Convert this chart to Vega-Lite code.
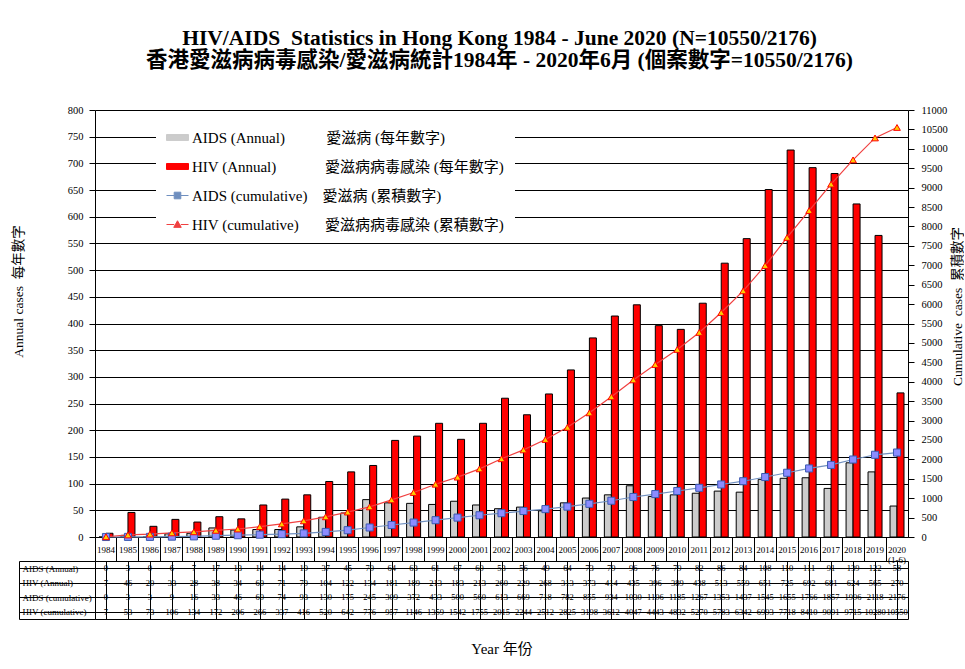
{
  "$schema": "https://vega.github.io/schema/vega-lite/v6.json",
  "background": "white",
  "padding": {"left": 11, "top": 27, "right": 0, "bottom": 5},
  "autosize": {"type": "pad"},
  "title": {
    "text": ["HIV/AIDS\u00a0 Statistics in Hong Kong 1984 - June 2020 (N=10550/2176)", "香港愛滋病病毒感染/愛滋病統計1984年 - 2020年6月 (個案數字=10550/2176)"],
    "anchor": "middle",
    "font": "Liberation Serif, Noto Sans CJK TC",
    "fontSize": 21.5,
    "fontWeight": "bold",
    "lineHeight": 22,
    "color": "black",
    "offset": 34,
    "dx": 12
  },
  "datasets": {
    "stats": [
      {"year": "1984", "series": "AIDS (Annual)", "value": 0},
      {"year": "1985", "series": "AIDS (Annual)", "value": 3},
      {"year": "1986", "series": "AIDS (Annual)", "value": 0},
      {"year": "1987", "series": "AIDS (Annual)", "value": 6},
      {"year": "1988", "series": "AIDS (Annual)", "value": 7},
      {"year": "1989", "series": "AIDS (Annual)", "value": 17},
      {"year": "1990", "series": "AIDS (Annual)", "value": 13},
      {"year": "1991", "series": "AIDS (Annual)", "value": 14},
      {"year": "1992", "series": "AIDS (Annual)", "value": 14},
      {"year": "1993", "series": "AIDS (Annual)", "value": 19},
      {"year": "1994", "series": "AIDS (Annual)", "value": 37},
      {"year": "1995", "series": "AIDS (Annual)", "value": 45},
      {"year": "1996", "series": "AIDS (Annual)", "value": 70},
      {"year": "1997", "series": "AIDS (Annual)", "value": 64},
      {"year": "1998", "series": "AIDS (Annual)", "value": 63},
      {"year": "1999", "series": "AIDS (Annual)", "value": 61},
      {"year": "2000", "series": "AIDS (Annual)", "value": 67},
      {"year": "2001", "series": "AIDS (Annual)", "value": 60},
      {"year": "2002", "series": "AIDS (Annual)", "value": 53},
      {"year": "2003", "series": "AIDS (Annual)", "value": 56},
      {"year": "2004", "series": "AIDS (Annual)", "value": 49},
      {"year": "2005", "series": "AIDS (Annual)", "value": 64},
      {"year": "2006", "series": "AIDS (Annual)", "value": 73},
      {"year": "2007", "series": "AIDS (Annual)", "value": 79},
      {"year": "2008", "series": "AIDS (Annual)", "value": 96},
      {"year": "2009", "series": "AIDS (Annual)", "value": 76},
      {"year": "2010", "series": "AIDS (Annual)", "value": 79},
      {"year": "2011", "series": "AIDS (Annual)", "value": 82},
      {"year": "2012", "series": "AIDS (Annual)", "value": 86},
      {"year": "2013", "series": "AIDS (Annual)", "value": 84},
      {"year": "2014", "series": "AIDS (Annual)", "value": 108},
      {"year": "2015", "series": "AIDS (Annual)", "value": 110},
      {"year": "2016", "series": "AIDS (Annual)", "value": 111},
      {"year": "2017", "series": "AIDS (Annual)", "value": 91},
      {"year": "2018", "series": "AIDS (Annual)", "value": 139},
      {"year": "2019", "series": "AIDS (Annual)", "value": 122},
      {"year": "2020", "series": "AIDS (Annual)", "value": 58},
      {"year": "1984", "series": "HIV (Annual)", "value": 7},
      {"year": "1985", "series": "HIV (Annual)", "value": 46},
      {"year": "1986", "series": "HIV (Annual)", "value": 20},
      {"year": "1987", "series": "HIV (Annual)", "value": 33},
      {"year": "1988", "series": "HIV (Annual)", "value": 28},
      {"year": "1989", "series": "HIV (Annual)", "value": 38},
      {"year": "1990", "series": "HIV (Annual)", "value": 34},
      {"year": "1991", "series": "HIV (Annual)", "value": 60},
      {"year": "1992", "series": "HIV (Annual)", "value": 71},
      {"year": "1993", "series": "HIV (Annual)", "value": 79},
      {"year": "1994", "series": "HIV (Annual)", "value": 104},
      {"year": "1995", "series": "HIV (Annual)", "value": 122},
      {"year": "1996", "series": "HIV (Annual)", "value": 134},
      {"year": "1997", "series": "HIV (Annual)", "value": 181},
      {"year": "1998", "series": "HIV (Annual)", "value": 189},
      {"year": "1999", "series": "HIV (Annual)", "value": 213},
      {"year": "2000", "series": "HIV (Annual)", "value": 183},
      {"year": "2001", "series": "HIV (Annual)", "value": 213},
      {"year": "2002", "series": "HIV (Annual)", "value": 260},
      {"year": "2003", "series": "HIV (Annual)", "value": 229},
      {"year": "2004", "series": "HIV (Annual)", "value": 268},
      {"year": "2005", "series": "HIV (Annual)", "value": 313},
      {"year": "2006", "series": "HIV (Annual)", "value": 373},
      {"year": "2007", "series": "HIV (Annual)", "value": 414},
      {"year": "2008", "series": "HIV (Annual)", "value": 435},
      {"year": "2009", "series": "HIV (Annual)", "value": 396},
      {"year": "2010", "series": "HIV (Annual)", "value": 389},
      {"year": "2011", "series": "HIV (Annual)", "value": 438},
      {"year": "2012", "series": "HIV (Annual)", "value": 513},
      {"year": "2013", "series": "HIV (Annual)", "value": 559},
      {"year": "2014", "series": "HIV (Annual)", "value": 651},
      {"year": "2015", "series": "HIV (Annual)", "value": 725},
      {"year": "2016", "series": "HIV (Annual)", "value": 692},
      {"year": "2017", "series": "HIV (Annual)", "value": 681},
      {"year": "2018", "series": "HIV (Annual)", "value": 624},
      {"year": "2019", "series": "HIV (Annual)", "value": 565},
      {"year": "2020", "series": "HIV (Annual)", "value": 270},
      {"year": "1984", "series": "AIDS (cumulative)", "value": 0},
      {"year": "1985", "series": "AIDS (cumulative)", "value": 3},
      {"year": "1986", "series": "AIDS (cumulative)", "value": 3},
      {"year": "1987", "series": "AIDS (cumulative)", "value": 9},
      {"year": "1988", "series": "AIDS (cumulative)", "value": 16},
      {"year": "1989", "series": "AIDS (cumulative)", "value": 33},
      {"year": "1990", "series": "AIDS (cumulative)", "value": 46},
      {"year": "1991", "series": "AIDS (cumulative)", "value": 60},
      {"year": "1992", "series": "AIDS (cumulative)", "value": 74},
      {"year": "1993", "series": "AIDS (cumulative)", "value": 93},
      {"year": "1994", "series": "AIDS (cumulative)", "value": 130},
      {"year": "1995", "series": "AIDS (cumulative)", "value": 175},
      {"year": "1996", "series": "AIDS (cumulative)", "value": 245},
      {"year": "1997", "series": "AIDS (cumulative)", "value": 309},
      {"year": "1998", "series": "AIDS (cumulative)", "value": 372},
      {"year": "1999", "series": "AIDS (cumulative)", "value": 433},
      {"year": "2000", "series": "AIDS (cumulative)", "value": 500},
      {"year": "2001", "series": "AIDS (cumulative)", "value": 560},
      {"year": "2002", "series": "AIDS (cumulative)", "value": 613},
      {"year": "2003", "series": "AIDS (cumulative)", "value": 669},
      {"year": "2004", "series": "AIDS (cumulative)", "value": 718},
      {"year": "2005", "series": "AIDS (cumulative)", "value": 782},
      {"year": "2006", "series": "AIDS (cumulative)", "value": 855},
      {"year": "2007", "series": "AIDS (cumulative)", "value": 934},
      {"year": "2008", "series": "AIDS (cumulative)", "value": 1030},
      {"year": "2009", "series": "AIDS (cumulative)", "value": 1106},
      {"year": "2010", "series": "AIDS (cumulative)", "value": 1185},
      {"year": "2011", "series": "AIDS (cumulative)", "value": 1267},
      {"year": "2012", "series": "AIDS (cumulative)", "value": 1353},
      {"year": "2013", "series": "AIDS (cumulative)", "value": 1437},
      {"year": "2014", "series": "AIDS (cumulative)", "value": 1545},
      {"year": "2015", "series": "AIDS (cumulative)", "value": 1655},
      {"year": "2016", "series": "AIDS (cumulative)", "value": 1766},
      {"year": "2017", "series": "AIDS (cumulative)", "value": 1857},
      {"year": "2018", "series": "AIDS (cumulative)", "value": 1996},
      {"year": "2019", "series": "AIDS (cumulative)", "value": 2118},
      {"year": "2020", "series": "AIDS (cumulative)", "value": 2176},
      {"year": "1984", "series": "HIV (cumulative)", "value": 7},
      {"year": "1985", "series": "HIV (cumulative)", "value": 53},
      {"year": "1986", "series": "HIV (cumulative)", "value": 73},
      {"year": "1987", "series": "HIV (cumulative)", "value": 106},
      {"year": "1988", "series": "HIV (cumulative)", "value": 134},
      {"year": "1989", "series": "HIV (cumulative)", "value": 172},
      {"year": "1990", "series": "HIV (cumulative)", "value": 206},
      {"year": "1991", "series": "HIV (cumulative)", "value": 266},
      {"year": "1992", "series": "HIV (cumulative)", "value": 337},
      {"year": "1993", "series": "HIV (cumulative)", "value": 416},
      {"year": "1994", "series": "HIV (cumulative)", "value": 520},
      {"year": "1995", "series": "HIV (cumulative)", "value": 642},
      {"year": "1996", "series": "HIV (cumulative)", "value": 776},
      {"year": "1997", "series": "HIV (cumulative)", "value": 957},
      {"year": "1998", "series": "HIV (cumulative)", "value": 1146},
      {"year": "1999", "series": "HIV (cumulative)", "value": 1359},
      {"year": "2000", "series": "HIV (cumulative)", "value": 1542},
      {"year": "2001", "series": "HIV (cumulative)", "value": 1755},
      {"year": "2002", "series": "HIV (cumulative)", "value": 2015},
      {"year": "2003", "series": "HIV (cumulative)", "value": 2244},
      {"year": "2004", "series": "HIV (cumulative)", "value": 2512},
      {"year": "2005", "series": "HIV (cumulative)", "value": 2825},
      {"year": "2006", "series": "HIV (cumulative)", "value": 3198},
      {"year": "2007", "series": "HIV (cumulative)", "value": 3612},
      {"year": "2008", "series": "HIV (cumulative)", "value": 4047},
      {"year": "2009", "series": "HIV (cumulative)", "value": 4443},
      {"year": "2010", "series": "HIV (cumulative)", "value": 4832},
      {"year": "2011", "series": "HIV (cumulative)", "value": 5270},
      {"year": "2012", "series": "HIV (cumulative)", "value": 5783},
      {"year": "2013", "series": "HIV (cumulative)", "value": 6342},
      {"year": "2014", "series": "HIV (cumulative)", "value": 6993},
      {"year": "2015", "series": "HIV (cumulative)", "value": 7718},
      {"year": "2016", "series": "HIV (cumulative)", "value": 8410},
      {"year": "2017", "series": "HIV (cumulative)", "value": 9091},
      {"year": "2018", "series": "HIV (cumulative)", "value": 9715},
      {"year": "2019", "series": "HIV (cumulative)", "value": 10280},
      {"year": "2020", "series": "HIV (cumulative)", "value": 10550}
    ]
  },
  "columns": 2,
  "spacing": {"row": 24, "column": 0},
  "bounds": "flush",
  "concat": [
    {
      "width": 76,
      "height": 427,
      "view": {"stroke": null},
      "data": {"values": [{"blank": ""}]},
      "mark": {"type": "text", "text": ""},
      "encoding": {}
    },
    {
      "width": 813,
      "height": 427,
      "view": {"stroke": null},
      "layer": [
        {
          "data": {"name": "stats"},
          "transform": [{"filter": {"field": "series", "oneOf": ["AIDS (Annual)", "HIV (Annual)"]}}],
          "mark": {"type": "bar", "stroke": "black", "strokeWidth": 1},
          "encoding": {
            "x": {
              "field": "year", "type": "ordinal",
              "scale": {"paddingInner": 0, "paddingOuter": 0},
              "axis": {
                "title": null, "labelAngle": 0, "bandPosition": 0, "tickSize": 24,
                "labelPadding": -12, "labelBaseline": "middle", "labelFontSize": 9,
                "labelLineHeight": 10,
                "labelExpr": "datum.value == '2020' ? ['2020', '(1-6)'] : datum.label",
                "grid": false
              }
            },
            "xOffset": {
              "field": "series", "type": "nominal", "sort": ["AIDS (Annual)", "HIV (Annual)"],
              "scale": {"paddingInner": 0, "paddingOuter": 0.57}
            },
            "y": {
              "field": "value", "type": "quantitative",
              "scale": {"domain": [0, 800], "nice": false},
              "axis": {
                "values": [0, 50, 100, 150, 200, 250, 300, 350, 400, 450, 500, 550, 600, 650, 700, 750, 800],
                "labelOverlap": false, "format": "d",
                "title": "Annual cases\u00a0 每年數字", "titleFontSize": 13.5, "titleFontWeight": "normal",
                "titlePadding": 42, "titleY": 181, "grid": true, "tickSize": 6, "labelPadding": 6, "labelFontSize": 10.5
              }
            },
            "color": {
              "field": "series", "type": "nominal",
              "scale": {
                "domain": ["AIDS (Annual)", "HIV (Annual)", "AIDS (cumulative)", "HIV (cumulative)"],
                "range": ["#cccccc", "#ff0000", "#6f8fbf", "#f04040"]
              },
              "legend": {
                "orient": "none", "legendX": 137, "legendY": 6, "title": null,
                "fillColor": "white", "padding": 10, "symbolSize": 484, "rowPadding": 9,
                "labelFont": "Liberation Serif, Noto Sans CJK TC", "labelFontSize": 15, "labelColor": "black",
                "labelOffset": 3, "labelLimit": 400,
                "labelExpr": "datum.label == 'AIDS (Annual)' ? 'AIDS (Annual)\u00a0\u00a0\u00a0\u00a0\u00a0\u00a0\u00a0\u00a0\u00a0\u00a0\u00a0愛滋病 (每年數字)' : datum.label == 'HIV (Annual)' ? 'HIV (Annual)\u00a0\u00a0\u00a0\u00a0\u00a0\u00a0\u00a0\u00a0\u00a0\u00a0\u00a0\u00a0\u00a0愛滋病病毒感染 (每年數字)' : datum.label == 'AIDS (cumulative)' ? 'AIDS (cumulative)\u00a0\u00a0\u00a0\u00a0愛滋病 (累積數字)' : 'HIV (cumulative)\u00a0\u00a0\u00a0\u00a0\u00a0\u00a0\u00a0愛滋病病毒感染 (累積數字)'",
                "encode": {
                  "symbols": {
                    "update": {
                      "shape": {"signal": "datum.value == 'AIDS (Annual)' || datum.value == 'HIV (Annual)' ? 'M-1,-0.27H1V0.27H-1Z' : datum.value == 'AIDS (cumulative)' ? 'M-1,0H-0.3M0.3,0H1M-0.3,-0.3H0.3V0.3H-0.3Z' : 'M-1,0H-0.3M0.3,0H1M0,-0.34L0.34,0.26H-0.34Z'"},
                      "fill": {"signal": "datum.value == 'AIDS (Annual)' ? '#cccccc' : datum.value == 'HIV (Annual)' ? '#ff0000' : datum.value == 'AIDS (cumulative)' ? '#8c8cff' : '#ffcc00'"},
                      "stroke": {"signal": "datum.value == 'AIDS (cumulative)' ? '#3a5ab0' : datum.value == 'HIV (cumulative)' ? '#ff2020' : 'black'"},
                      "strokeWidth": {"value": 1},
                      "fillOpacity": {"value": 1},
                      "strokeOpacity": {"value": 1},
                      "opacity": {"value": 1}
                    }
                  }
                }
              }
            }
          }
        },
        {
          "data": {"name": "stats"},
          "transform": [{"filter": {"field": "series", "oneOf": ["AIDS (cumulative)", "HIV (cumulative)"]}}],
          "encoding": {
            "x": {"field": "year", "type": "ordinal"},
            "y": {
              "field": "value", "type": "quantitative",
              "scale": {"domain": [0, 11000], "nice": false},
              "axis": {
                "orient": "right",
                "values": [0, 500, 1000, 1500, 2000, 2500, 3000, 3500, 4000, 4500, 5000, 5500, 6000, 6500, 7000, 7500, 8000, 8500, 9000, 9500, 10000, 10500, 11000],
                "labelOverlap": false, "format": "d",
                "title": "Cumulative\u00a0 cases\u00a0 累積數字", "titleFontSize": 13.5, "titleFontWeight": "normal",
                "titleAngle": 270, "titleBaseline": "top", "titlePadding": 3, "titleY": 196,
                "grid": false, "tickSize": 6, "labelPadding": 7, "labelFontSize": 10.5
              }
            }
          },
          "layer": [
            {
              "mark": {"type": "line", "strokeWidth": 1.2},
              "encoding": {
                "color": {
                  "field": "series", "type": "nominal",
                  "legend": {
                    "orient": "none", "legendX": 137, "legendY": 6, "title": null,
                    "fillColor": "white", "padding": 10, "symbolSize": 484, "rowPadding": 9,
                    "labelFont": "Liberation Serif, Noto Sans CJK TC", "labelFontSize": 15, "labelColor": "black",
                    "labelOffset": 3, "labelLimit": 400,
                    "labelExpr": "datum.label == 'AIDS (Annual)' ? 'AIDS (Annual)\u00a0\u00a0\u00a0\u00a0\u00a0\u00a0\u00a0\u00a0\u00a0\u00a0\u00a0愛滋病 (每年數字)' : datum.label == 'HIV (Annual)' ? 'HIV (Annual)\u00a0\u00a0\u00a0\u00a0\u00a0\u00a0\u00a0\u00a0\u00a0\u00a0\u00a0\u00a0\u00a0愛滋病病毒感染 (每年數字)' : datum.label == 'AIDS (cumulative)' ? 'AIDS (cumulative)\u00a0\u00a0\u00a0\u00a0愛滋病 (累積數字)' : 'HIV (cumulative)\u00a0\u00a0\u00a0\u00a0\u00a0\u00a0\u00a0愛滋病病毒感染 (累積數字)'",
                    "encode": {
                      "symbols": {
                        "update": {
                          "shape": {"signal": "datum.value == 'AIDS (Annual)' || datum.value == 'HIV (Annual)' ? 'M-1,-0.27H1V0.27H-1Z' : datum.value == 'AIDS (cumulative)' ? 'M-1,0H-0.3M0.3,0H1M-0.3,-0.3H0.3V0.3H-0.3Z' : 'M-1,0H-0.3M0.3,0H1M0,-0.34L0.34,0.26H-0.34Z'"},
                          "fill": {"signal": "datum.value == 'AIDS (Annual)' ? '#cccccc' : datum.value == 'HIV (Annual)' ? '#ff0000' : datum.value == 'AIDS (cumulative)' ? '#8c8cff' : '#ffcc00'"},
                          "stroke": {"signal": "datum.value == 'AIDS (cumulative)' ? '#3a5ab0' : datum.value == 'HIV (cumulative)' ? '#ff2020' : 'black'"},
                          "strokeWidth": {"value": 1},
                          "fillOpacity": {"value": 1},
                          "strokeOpacity": {"value": 1},
                          "opacity": {"value": 1}
                        }
                      }
                    }
                  }
                }
              }
            },
            {
              "transform": [{"filter": "datum.series == 'AIDS (cumulative)'"}],
              "mark": {"type": "point", "shape": "square", "filled": true, "fill": "#8c8cff", "stroke": "#3a5ab0", "strokeWidth": 1, "size": 50, "opacity": 1}
            },
            {
              "transform": [{"filter": "datum.series == 'HIV (cumulative)'"}],
              "mark": {"type": "point", "shape": "triangle-up", "filled": true, "fill": "#ffcc00", "stroke": "#ff0000", "strokeWidth": 1, "size": 45, "opacity": 1}
            }
          ]
        }
      ],
      "resolve": {"scale": {"y": "independent"}}
    },
    {
      "width": 76,
      "height": 58,
      "view": {"stroke": "black"},
      "data": {"name": "stats"},
      "mark": {"type": "text", "text": ""},
      "encoding": {
        "y": {
          "field": "series", "type": "nominal",
          "sort": ["AIDS (Annual)", "HIV (Annual)", "AIDS (cumulative)", "HIV (cumulative)"],
          "scale": {"paddingInner": 0, "paddingOuter": 0},
          "axis": {
            "title": null, "ticks": false, "tickSize": 0, "domain": false, "grid": true,
            "bandPosition": 0, "labelAlign": "left", "labelPadding": -3, "labelFontSize": 9
          }
        }
      }
    },
    {
      "width": 813,
      "height": 58,
      "view": {"stroke": "black"},
      "data": {"name": "stats"},
      "mark": {"type": "text", "font": "Liberation Serif", "fontSize": 8.5, "color": "black"},
      "encoding": {
        "x": {
          "field": "year", "type": "ordinal",
          "scale": {"paddingInner": 0, "paddingOuter": 0},
          "axis": {
            "orient": "bottom", "labels": false, "ticks": false, "domain": false, "grid": true,
            "bandPosition": 0, "title": "Year 年份", "titleFont": "Liberation Serif, Noto Sans CJK TC",
            "titleFontSize": 15, "titleFontWeight": "normal", "titlePadding": 22
          }
        },
        "y": {
          "field": "series", "type": "nominal",
          "sort": ["AIDS (Annual)", "HIV (Annual)", "AIDS (cumulative)", "HIV (cumulative)"],
          "scale": {"paddingInner": 0, "paddingOuter": 0},
          "axis": {"labels": false, "ticks": false, "domain": false, "grid": true, "bandPosition": 0, "title": null}
        },
        "text": {"field": "value", "type": "quantitative", "format": "d"}
      }
    }
  ],
  "config": {
    "font": "Liberation Serif",
    "legend": {
      "labelFont": "Liberation Serif, Noto Sans CJK TC",
      "labelFontSize": 15,
      "labelColor": "black"
    },
    "axis": {
      "labelFont": "Liberation Serif",
      "titleFont": "Liberation Serif, Noto Sans CJK TC",
      "labelColor": "black",
      "titleColor": "black",
      "tickColor": "black",
      "domainColor": "black",
      "gridColor": "black",
      "gridOpacity": 1,
      "gridWidth": 1
    }
  }
}
